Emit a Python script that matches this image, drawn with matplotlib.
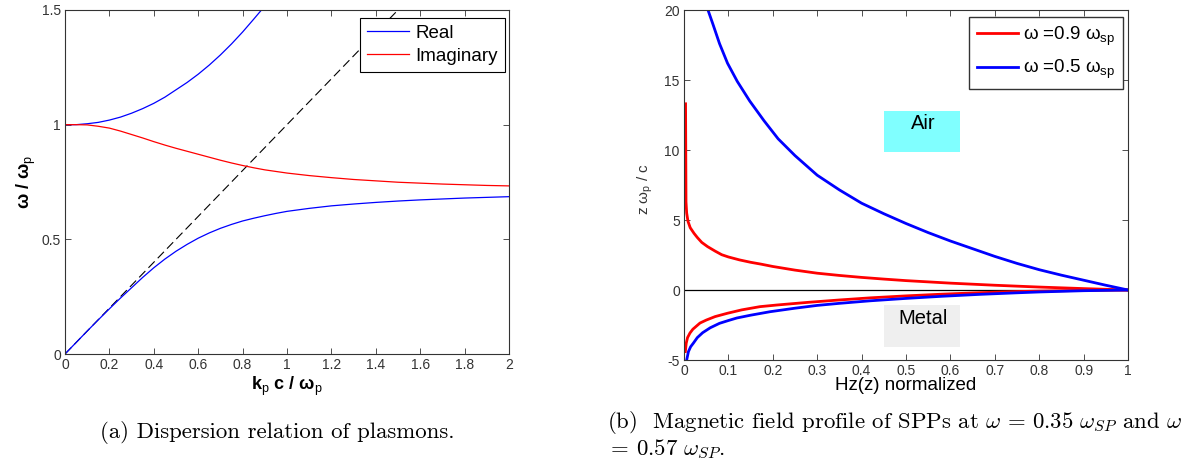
import matplotlib as mpl
import numpy as np
import matplotlib.pyplot as plt
from matplotlib.patches import Rectangle
from matplotlib.ticker import FormatStrFormatter

mpl.rcParams['font.family'] = ['Liberation Sans', 'DejaVu Sans']
mpl.rcParams['mathtext.fontset'] = 'custom'
mpl.rcParams['mathtext.rm'] = 'Liberation Sans'
mpl.rcParams['mathtext.it'] = 'Liberation Sans'
mpl.rcParams['mathtext.bf'] = 'Liberation Sans:bold'

# ----- Data: (a) dispersion relation -----
upper_k = [0, 0.05, 0.1, 0.15, 0.2, 0.25, 0.3, 0.35, 0.4, 0.45, 0.5, 0.55, 0.6, 0.65,
           0.7, 0.75, 0.8, 0.85, 0.885]
upper_w = [1.0, 1.0, 1.004, 1.01, 1.02, 1.033, 1.05, 1.07, 1.093, 1.12, 1.152, 1.184,
           1.22, 1.26, 1.304, 1.352, 1.404, 1.46, 1.5]

lower_k = [0, 0.05, 0.1, 0.15, 0.2, 0.25, 0.3, 0.35, 0.4, 0.45, 0.5, 0.55, 0.6, 0.65, 0.7,
           0.75, 0.8, 0.85, 0.9, 0.95, 1.0, 1.1, 1.2, 1.3, 1.4, 1.5, 1.6, 1.7, 1.8, 1.9, 2.0]
lower_w = [0, 0.05, 0.1, 0.149, 0.197, 0.244, 0.289, 0.334, 0.376, 0.414, 0.448, 0.478,
           0.505, 0.528, 0.548, 0.565, 0.58, 0.592, 0.603, 0.613, 0.622, 0.635, 0.646,
           0.654, 0.661, 0.667, 0.672, 0.676, 0.68, 0.683, 0.686]

imag_k = [0, 0.05, 0.1, 0.15, 0.2, 0.25, 0.3, 0.35, 0.4, 0.45, 0.5, 0.55, 0.6, 0.65, 0.7,
          0.75, 0.8, 0.85, 0.9, 0.95, 1.0, 1.1, 1.2, 1.3, 1.4, 1.5, 1.6, 1.7, 1.8, 1.9, 2.0]
imag_w = [1.0, 1.0, 0.999, 0.993, 0.985, 0.972, 0.957, 0.942, 0.926, 0.911, 0.897, 0.884,
          0.871, 0.858, 0.845, 0.833, 0.822, 0.812, 0.803, 0.796, 0.789, 0.778, 0.769,
          0.761, 0.755, 0.749, 0.745, 0.741, 0.738, 0.735, 0.733]

light_k = [0, 2]
light_w = [0, 2]

# ----- Data: (b) field profile -----
red_air_hz = [0.0035, 0.0045, 0.006, 0.009, 0.014, 0.0225, 0.03, 0.04, 0.053, 0.07, 0.085,
              0.1, 0.125, 0.15, 0.173, 0.2, 0.25, 0.3, 0.35, 0.4, 0.45, 0.5, 0.6, 0.7,
              0.8, 0.9, 1.0]
red_air_z = [13.3, 6.3, 5.5, 4.9, 4.45, 4.05, 3.75, 3.4, 3.1, 2.78, 2.52, 2.36, 2.15, 1.98,
             1.85, 1.68, 1.42, 1.2, 1.04, 0.9, 0.78, 0.67, 0.49, 0.34, 0.21, 0.1, 0.0]
red_metal_hz = [0.003, 0.005, 0.008, 0.0135, 0.02, 0.036, 0.05, 0.07, 0.098, 0.13, 0.171,
                0.21, 0.28, 0.351, 0.42, 0.5, 0.58, 0.667, 0.75, 0.8, 0.9, 1.0]
red_metal_z = [-4.4, -3.8, -3.4, -3.07, -2.8, -2.36, -2.15, -1.9, -1.66, -1.42, -1.19,
               -1.07, -0.88, -0.71, -0.56, -0.42, -0.3, -0.19, -0.11, -0.08, -0.03, 0]

blue_air_hz = [0.054, 0.065, 0.08, 0.098, 0.12, 0.148, 0.18, 0.212, 0.25, 0.3, 0.35, 0.4,
               0.45, 0.5, 0.55, 0.6, 0.65, 0.7, 0.75, 0.8, 0.85, 0.9, 0.95, 1.0]
blue_air_z = [20.0, 19.0, 17.6, 16.2, 14.9, 13.5, 12.1, 10.8, 9.6, 8.2, 7.15, 6.2, 5.45,
              4.75, 4.1, 3.5, 2.95, 2.4, 1.9, 1.45, 1.06, 0.7, 0.34, 0.0]
blue_metal_hz = [0.006, 0.01, 0.015, 0.021, 0.03, 0.042, 0.059, 0.08, 0.1, 0.119, 0.15,
                 0.194, 0.25, 0.3, 0.351, 0.42, 0.5, 0.58, 0.667, 0.75, 0.8, 0.9, 1.0]
blue_metal_z = [-5.0, -4.4, -4.05, -3.8, -3.4, -3.05, -2.7, -2.38, -2.18, -2.0, -1.8,
                -1.55, -1.3, -1.1, -0.95, -0.77, -0.6, -0.45, -0.31, -0.2, -0.14, -0.05, 0]

spine_col = '#333333'

fig = plt.figure(figsize=(11.87, 4.68), dpi=100)
ax1 = fig.add_axes([65 / 1187, 1 - 354 / 468, 444 / 1187, 344 / 468])
ax2 = fig.add_axes([684 / 1187, 1 - 360 / 468, 444 / 1187, 350 / 468])

for ax in (ax1, ax2):
    ax.tick_params(direction='in', top=True, right=True, length=4.5, width=0.6,
                   labelsize=10, colors=spine_col, labelcolor='#333333', pad=3)
    for s in ax.spines.values():
        s.set_color(spine_col)
        s.set_linewidth(0.8)

# ----- (a) -----
ax1.plot(light_k, light_w, color='k', lw=0.8, dashes=(8, 4))
l_real, = ax1.plot(upper_k, upper_w, color='#0000ff', lw=0.9, label='Real')
ax1.plot(lower_k, lower_w, color='#0000ff', lw=0.9)
l_imag, = ax1.plot(imag_k, imag_w, color='#ff0000', lw=0.9, label='Imaginary')
ax1.set_xlim(0, 2)
ax1.set_ylim(0, 1.5)
ax1.set_xticks(np.arange(0, 2.01, 0.2))
ax1.set_yticks([0, 0.5, 1, 1.5])
ax1.xaxis.set_major_formatter(FormatStrFormatter('%g'))
ax1.yaxis.set_major_formatter(FormatStrFormatter('%g'))
ax1.set_xlabel(r'k$_{\rm p}$ c / ω$_{\rm p}$', fontsize=13, fontweight='bold')
ax1.set_ylabel(r'ω / ω$_{\rm p}$', fontsize=13, fontweight='bold')
ax1.xaxis.set_label_coords(0.5, -0.061)
ax1.yaxis.set_label_coords(-0.061, 0.5)
leg1 = ax1.legend(handles=[l_real, l_imag], loc='upper right', bbox_to_anchor=(0.991, 0.977),
                  borderaxespad=0, fontsize=13.5, handlelength=2.2, handletextpad=0.37,
                  labelspacing=0.3, fancybox=False, framealpha=1, borderpad=0.37)
leg1.get_frame().set_edgecolor('k')
leg1.get_frame().set_linewidth(0.8)

# ----- (b) -----
ax2.axhline(0, color='k', lw=0.9)
ax2.add_patch(Rectangle((0.451, 9.88), 0.171, 2.92, facecolor='#80ffff', edgecolor='none'))
ax2.add_patch(Rectangle((0.451, -4.07), 0.171, 3.0, facecolor='#efefef', edgecolor='none'))
ax2.text(0.539, 11.86, 'Air', ha='center', va='center', fontsize=14.5)
ax2.text(0.539, -2.0, 'Metal', ha='center', va='center', fontsize=14.5)
l_r, = ax2.plot(red_air_hz, red_air_z, color='#ff0000', lw=2, label=r'ω =0.9 ω$_{\rm sp}$')
ax2.plot(red_metal_hz, red_metal_z, color='#ff0000', lw=2)
l_b, = ax2.plot(blue_air_hz, blue_air_z, color='#0000ff', lw=2, label=r'ω =0.5 ω$_{\rm sp}$')
ax2.plot(blue_metal_hz, blue_metal_z, color='#0000ff', lw=2)
ax2.set_xlim(0, 1)
ax2.set_ylim(-5, 20)
ax2.set_xticks(np.arange(0, 1.01, 0.1))
ax2.set_yticks([-5, 0, 5, 10, 15, 20])
ax2.xaxis.set_major_formatter(FormatStrFormatter('%g'))
ax2.yaxis.set_major_formatter(FormatStrFormatter('%g'))
ax2.set_xlabel('Hz(z) normalized', fontsize=13.5)
ax2.set_ylabel(r'z ω$_{\rm p}$ / c', fontsize=11, color='#333333')
ax2.xaxis.set_label_coords(0.5, -0.049)
ax2.yaxis.set_label_coords(-0.065, 0.49)
leg2 = ax2.legend(handles=[l_r, l_b], loc='upper right', bbox_to_anchor=(0.989, 0.98),
                  borderaxespad=0, fontsize=13.5, handlelength=2.2, handletextpad=0.3,
                  labelspacing=0.55, fancybox=False, framealpha=1, borderpad=0.4)
leg2.get_frame().set_edgecolor('#333333')
leg2.get_frame().set_linewidth(1.0)

# ----- captions -----
fig.text(277 / 1187, 1 - 432 / 468, '(a) Dispersion relation of plasmons.', ha='center', va='center',
         fontsize=16.4, family='cmr10')
fig.text(607 / 1187, 1 - 423 / 468,
         r'(b)  Magnetic field profile of SPPs at $\omega\,=\,0.35\ \omega_{SP}$ and $\omega$',
         ha='left', va='center', fontsize=16.4, family='cmr10', math_fontfamily='cm')
fig.text(607 / 1187, 1 - 449 / 468, r'$=\,0.57\ \omega_{SP}$.', ha='left', va='center',
         fontsize=16.4, family='cmr10', math_fontfamily='cm')

plt.savefig('out.png', dpi=100)
